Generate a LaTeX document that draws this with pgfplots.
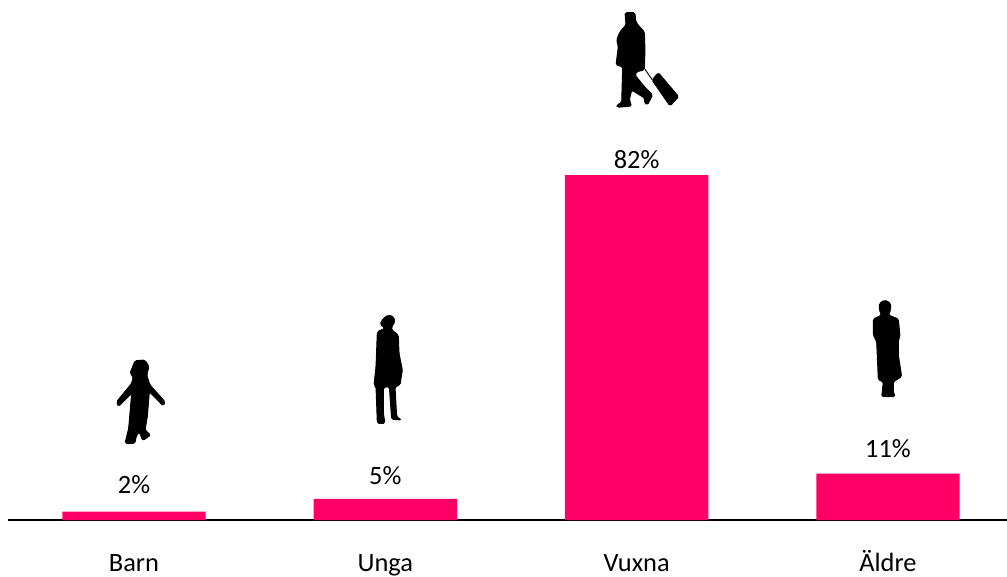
\documentclass[border=0pt]{standalone}
\usepackage{pgfplots}
\pgfplotsset{compat=1.18}
\usepackage{fontspec}
\setmainfont{Carlito}
\definecolor{barpink}{HTML}{FF0066}
\newcommand{\sil}[3]{\begin{scope}[shift={(#1*0.75pt,-#2*0.75pt)},x=0.25pt,y=-0.25pt]
\filldraw[black,line width=0.7pt,line join=round,rounded corners=1.2pt] #3 -- cycle;
\end{scope}}
\begin{document}
\begin{tikzpicture}
\path[use as bounding box] (0,0) rectangle (755.25pt,-432pt);
\begin{axis}[
  at={(6pt,-390pt)}, anchor=south west,
  scale only axis, width=749.25pt, height=390pt,
  xmin=-0.5013, xmax=3.4735, ymin=0, ymax=123.6,
  axis x line=bottom, axis y line=none,
  axis line style={black,line width=0.8pt,-},
  xtick={0,1,2,3}, xticklabels={Barn,Unga,Vuxna,Äldre},
  major tick length=0pt,
  x tick label style={font=\fontsize{19.8pt}{22pt}\selectfont,anchor=base,yshift=-38.25pt,text=black},
  /pgf/number format/assume math mode=true,
  clip=false,
]
\addplot[ybar, bar width=107.6pt, fill=barpink, draw=none, bar shift=0pt,
  point meta=y,
  visualization depends on={\thisrow{off}\as\off},
  nodes near coords={\pgfmathprintnumber[fixed,assume math mode=true]{\pgfplotspointmeta}\%},
  every node near coord/.append style={anchor=base,yshift=\off pt,
    font=\fontsize{19.8pt}{22pt}\selectfont,text=black,inner ysep=0pt,outer ysep=0pt},
] table[x=x,y=y] {
x y off
0 2 13.9
1 5 11.2
2 82 4.9
3 11 12.5
};
\end{axis}
% traveller
\sil{590}{0}{(105,38) -- (135,38) -- (137,65) -- (150,82) -- (163,95) -- (165,150) -- (163,210) -- (140,215) -- (135,225) -- (165,262) -- (188,285) -- (172,315) -- (163,308) -- (165,295) -- (125,270) -- (118,300) -- (125,318) -- (82,322) -- (80,315) -- (95,308) -- (98,200) -- (78,195) -- (85,140) -- (80,120) -- (90,95) -- (108,75)}
\sil{590}{0}{(205,218) -- (266,290) -- (240,318) -- (186,240)}
\draw[black,line width=0.7pt] (590*0.75pt+165*0.25pt,-208*0.25pt) -- (590*0.75pt+187*0.25pt,-240*0.25pt);
% child
\sil{100}{350}{(105,32) -- (135,30) -- (147,50) -- (140,75) -- (150,105) -- (195,155) -- (190,168) -- (148,125) -- (142,200) -- (135,240) -- (152,255) -- (128,272) -- (118,245) -- (108,260) -- (105,280) -- (75,280) -- (86,235) -- (95,130) -- (55,170) -- (50,155) -- (95,100) -- (100,80) -- (90,70)}
% woman
\sil{350}{310}{(100,25) -- (115,15) -- (130,20) -- (135,35) -- (125,50) -- (125,60) -- (145,75) -- (147,130) -- (157,180) -- (150,225) -- (135,230) -- (140,320) -- (155,330) -- (125,328) -- (118,230) -- (100,232) -- (100,310) -- (105,340) -- (82,340) -- (78,230) -- (72,225) -- (78,170) -- (82,65) -- (105,55) -- (90,42)}
% older
\sil{850}{295}{(88,25) -- (105,15) -- (122,25) -- (122,45) -- (115,60) -- (145,72) -- (150,125) -- (145,135) -- (145,180) -- (155,245) -- (130,260) -- (130,290) -- (135,305) -- (95,305) -- (100,260) -- (85,255) -- (80,140) -- (70,120) -- (70,72) -- (95,60) -- (88,45)}
\end{tikzpicture}
\end{document}
